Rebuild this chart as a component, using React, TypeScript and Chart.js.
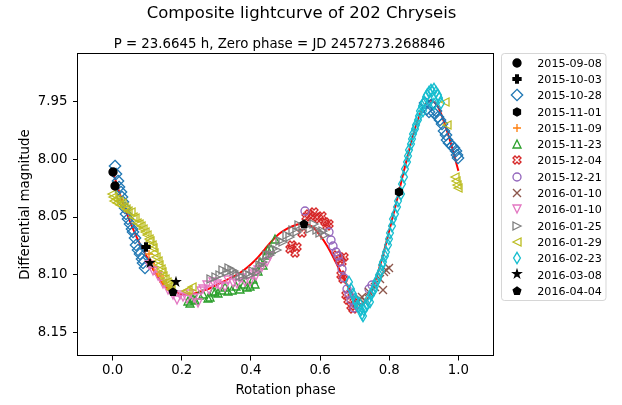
import { useEffect, useRef } from "react";
import { Chart, registerables } from "chart.js";

Chart.register(...registerables);

type Pt = [number, number];

// Folded photometry per night: [rotation phase, differential magnitude]
const n20150908: Pt[] = [[0.000, 8.011], [0.007, 8.023]];
const n20151003: Pt[] = [[0.098, 8.076]];
const n20151028: Pt[] = [
  [0.006, 8.006], [0.011, 8.013], [0.015, 8.019], [0.019, 8.024], [0.023, 8.028], [0.027, 8.033],
  [0.031, 8.037], [0.035, 8.042], [0.040, 8.047], [0.045, 8.052], [0.050, 8.056], [0.055, 8.060],
  [0.060, 8.063], [0.065, 8.068], [0.069, 8.074], [0.074, 8.079], [0.079, 8.082], [0.084, 8.086],
  [0.089, 8.090], [0.094, 8.094],
  [0.904, 7.951], [0.910, 7.956], [0.915, 7.959], [0.921, 7.953], [0.928, 7.960], [0.934, 7.958],
  [0.940, 7.963], [0.946, 7.966], [0.952, 7.969], [0.958, 7.975], [0.963, 7.979], [0.968, 7.983],
  [0.974, 7.986], [0.980, 7.988], [0.986, 7.990], [0.992, 7.993], [0.997, 7.996], [1.000, 7.999],
];
const n20151101: Pt[] = [[0.829, 8.028]];
const n20151109: Pt[] = [
  [0.104, 8.082], [0.112, 8.090], [0.120, 8.093], [0.128, 8.099], [0.136, 8.101], [0.146, 8.106],
  [0.156, 8.110], [0.166, 8.113],
];
const n20151123: Pt[] = [
  [0.218, 8.123], [0.224, 8.125], [0.232, 8.121], [0.238, 8.122], [0.250, 8.118], [0.262, 8.117],
  [0.275, 8.120], [0.282, 8.119], [0.290, 8.114], [0.296, 8.115], [0.305, 8.116], [0.315, 8.113],
  [0.325, 8.111], [0.335, 8.114], [0.344, 8.113], [0.356, 8.110], [0.368, 8.112], [0.380, 8.108],
  [0.390, 8.111], [0.397, 8.110], [0.405, 8.104], [0.412, 8.108], [0.420, 8.097], [0.426, 8.089],
  [0.436, 8.092], [0.443, 8.083], [0.450, 8.079], [0.458, 8.078], [0.470, 8.069],
];
const n20151204: Pt[] = [
  [0.512, 8.078], [0.520, 8.074], [0.527, 8.081], [0.532, 8.076], [0.547, 8.064], [0.560, 8.050],
  [0.567, 8.047], [0.574, 8.049], [0.582, 8.046], [0.590, 8.050], [0.598, 8.052], [0.606, 8.049],
  [0.614, 8.054], [0.620, 8.058], [0.626, 8.056], [0.650, 8.083], [0.657, 8.086], [0.664, 8.089],
  [0.670, 8.085], [0.660, 8.100], [0.665, 8.104], [0.676, 8.118], [0.682, 8.122], [0.688, 8.127],
  [0.694, 8.130],
];
const n20151221: Pt[] = [
  [0.557, 8.045], [0.626, 8.063], [0.633, 8.070], [0.638, 8.075], [0.645, 8.080], [0.652, 8.084],
  [0.658, 8.089], [0.664, 8.095], [0.670, 8.103], [0.677, 8.112], [0.683, 8.117], [0.690, 8.122],
  [0.697, 8.129], [0.705, 8.126], [0.742, 8.112], [0.749, 8.109],
];
const n20160110a: Pt[] = [
  [0.708, 8.125], [0.716, 8.121], [0.722, 8.119], [0.730, 8.123], [0.742, 8.115], [0.760, 8.111],
  [0.772, 8.104], [0.781, 8.113], [0.785, 8.098], [0.792, 8.096], [0.798, 8.094],
];
const n20160110b: Pt[] = [
  [0.105, 8.092], [0.118, 8.097], [0.130, 8.101], [0.145, 8.108], [0.160, 8.113], [0.175, 8.118],
  [0.185, 8.122], [0.195, 8.118], [0.204, 8.119], [0.214, 8.121], [0.225, 8.117], [0.236, 8.120],
  [0.248, 8.125], [0.256, 8.114], [0.262, 8.112], [0.272, 8.109], [0.280, 8.113], [0.290, 8.106],
  [0.301, 8.108], [0.312, 8.110], [0.325, 8.111], [0.335, 8.105], [0.347, 8.107], [0.359, 8.108],
  [0.370, 8.103], [0.384, 8.106], [0.397, 8.106], [0.407, 8.099], [0.414, 8.101], [0.421, 8.096],
  [0.433, 8.093], [0.446, 8.089], [0.455, 8.084],
];
const n20160125: Pt[] = [
  [0.285, 8.104], [0.298, 8.102], [0.311, 8.100], [0.320, 8.096], [0.330, 8.098], [0.338, 8.094],
  [0.344, 8.096], [0.352, 8.097], [0.359, 8.099], [0.368, 8.101], [0.378, 8.102], [0.388, 8.099],
  [0.397, 8.100], [0.407, 8.097], [0.417, 8.098], [0.425, 8.092], [0.436, 8.089], [0.446, 8.083],
  [0.455, 8.083], [0.465, 8.078], [0.475, 8.079], [0.484, 8.071], [0.494, 8.072], [0.503, 8.066],
  [0.512, 8.067], [0.523, 8.061], [0.532, 8.063], [0.540, 8.057], [0.550, 8.059], [0.560, 8.058],
  [0.571, 8.060], [0.581, 8.056], [0.590, 8.061], [0.600, 8.064], [0.608, 8.062], [0.614, 8.066],
];
const n20160129: Pt[] = [
  [-0.003, 8.030], [0.001, 8.033], [0.005, 8.036], [0.010, 8.034], [0.014, 8.038], [0.018, 8.036],
  [0.022, 8.040], [0.027, 8.038], [0.032, 8.041], [0.038, 8.043], [0.045, 8.045], [0.053, 8.046],
  [0.059, 8.050], [0.065, 8.051], [0.070, 8.055], [0.076, 8.056], [0.082, 8.058], [0.088, 8.060],
  [0.094, 8.063], [0.099, 8.066], [0.104, 8.069], [0.108, 8.071], [0.113, 8.074], [0.117, 8.077],
  [0.121, 8.081], [0.125, 8.085], [0.130, 8.088], [0.134, 8.092], [0.139, 8.095], [0.143, 8.098],
  [0.147, 8.101], [0.151, 8.104], [0.156, 8.106], [0.160, 8.108], [0.165, 8.110], [0.169, 8.112],
  [0.213, 8.114], [0.218, 8.113], [0.229, 8.111],
  [0.962, 7.950], [0.966, 7.970], [0.990, 8.015], [0.994, 8.019], [0.997, 8.022], [1.000, 8.025],
];
const n20160223: Pt[] = [
  [0.684, 8.106], [0.690, 8.112], [0.695, 8.117], [0.700, 8.121], [0.705, 8.124], [0.709, 8.128],
  [0.713, 8.125], [0.717, 8.131], [0.721, 8.134], [0.724, 8.136], [0.727, 8.131], [0.731, 8.128],
  [0.735, 8.126], [0.739, 8.122], [0.743, 8.124], [0.747, 8.118], [0.751, 8.115], [0.755, 8.113],
  [0.759, 8.110], [0.763, 8.106], [0.767, 8.104], [0.771, 8.100], [0.775, 8.097], [0.779, 8.092],
  [0.783, 8.089], [0.787, 8.084], [0.791, 8.080], [0.795, 8.074], [0.799, 8.069], [0.803, 8.064],
  [0.808, 8.058], [0.812, 8.052], [0.817, 8.047], [0.821, 8.041], [0.826, 8.036], [0.833, 8.030],
  [0.838, 8.021], [0.842, 8.015], [0.846, 8.008], [0.850, 8.002], [0.854, 7.997], [0.858, 7.992],
  [0.862, 7.987], [0.866, 7.982], [0.870, 7.978], [0.874, 7.974], [0.878, 7.970], [0.882, 7.966],
  [0.886, 7.962], [0.890, 7.958], [0.895, 7.954], [0.900, 7.950], [0.905, 7.946], [0.910, 7.944],
  [0.915, 7.942], [0.920, 7.940], [0.925, 7.941], [0.930, 7.939], [0.935, 7.942], [0.940, 7.944],
  [0.945, 7.947], [0.950, 7.951], [0.918, 7.949], [0.928, 7.952], [0.898, 7.958],
];
const n20160308: Pt[] = [[0.108, 8.090], [0.183, 8.106]];
const n20160404: Pt[] = [[0.174, 8.115], [0.554, 8.056]];

// Fourier fit of the composite lightcurve
const fitCurve: Pt[] = [
  [0.00, 8.010], [0.02, 8.029], [0.04, 8.046], [0.06, 8.061], [0.08, 8.074], [0.10, 8.085],
  [0.12, 8.097], [0.14, 8.106], [0.16, 8.112], [0.18, 8.115], [0.20, 8.117], [0.22, 8.117],
  [0.24, 8.116], [0.26, 8.114], [0.28, 8.112], [0.30, 8.109], [0.32, 8.106], [0.34, 8.103],
  [0.36, 8.100], [0.38, 8.096], [0.40, 8.091], [0.42, 8.085], [0.44, 8.078], [0.46, 8.071],
  [0.48, 8.065], [0.50, 8.061], [0.52, 8.058], [0.54, 8.056], [0.56, 8.056], [0.58, 8.059],
  [0.60, 8.066], [0.62, 8.075], [0.64, 8.086], [0.66, 8.098], [0.68, 8.110], [0.70, 8.120],
  [0.72, 8.126], [0.74, 8.120], [0.76, 8.105], [0.78, 8.085], [0.80, 8.062], [0.82, 8.038],
  [0.84, 8.013], [0.86, 7.989], [0.88, 7.968], [0.90, 7.954], [0.92, 7.949], [0.94, 7.954],
  [0.96, 7.969], [0.98, 7.988], [1.00, 8.010],
];

const nightLabels = [
  "2015-09-08", "2015-10-03", "2015-10-28", "2015-11-01", "2015-11-09", "2015-11-23",
  "2015-12-04", "2015-12-21", "2016-01-10", "2016-01-10", "2016-01-25", "2016-01-29",
  "2016-02-23", "2016-03-08", "2016-04-04",
];
const nightData = [
  n20150908, n20151003, n20151028, n20151101, n20151109, n20151123, n20151204, n20151221,
  n20160110a, n20160110b, n20160125, n20160129, n20160223, n20160308, n20160404,
];
const nightColors = [
  "#000000", "#000000", "#1f77b4", "#000000", "#ff7f0e", "#2ca02c", "#d62728", "#9467bd",
  "#8c564b", "#e377c2", "#7f7f7f", "#bcbd22", "#17becf", "#000000", "#000000",
];
const nightMarkers = ["o", "P", "D", "h", "+", "^", "X", "o", "x", "v", ">", "<", "d", "*", "p"];
const nightFilled = [
  true, true, false, true, false, false, false, false, false, false, false, false, false, true, true,
];

const xTicks = [0, 0.2, 0.4, 0.6, 0.8, 1.0];
const yTicks = [7.95, 8.0, 8.05, 8.1, 8.15];

const titleText = "Composite lightcurve of 202 Chryseis";
const subtitleText = "P = 23.6645 h, Zero phase = JD 2457273.268846";
const xTitle = "Rotation phase";
const yTitle = "Differential magnitude";

const FONT = "'DejaVu Sans', sans-serif";
const MARKER_SIZE = 8;
const EDGE_WIDTH = 1.33;
const SPRITE = 24;

function polygon(ctx: CanvasRenderingContext2D, pts: number[][]) {
  ctx.moveTo(pts[0][0], pts[0][1]);
  for (let i = 1; i < pts.length; i++) ctx.lineTo(pts[i][0], pts[i][1]);
  ctx.closePath();
}

function ring(n: number, rOuter: number, rInner: number) {
  const star = rInner !== rOuter;
  const count = star ? 2 * n : n;
  const pts: number[][] = [];
  for (let k = 0; k < count; k++) {
    const ang = -Math.PI / 2 + (2 * Math.PI * k) / count;
    const r = star && k % 2 === 1 ? rInner : rOuter;
    pts.push([r * Math.cos(ang), r * Math.sin(ang)]);
  }
  return pts;
}

function traceMarker(ctx: CanvasRenderingContext2D, kind: string, s: number) {
  const h = s / 2;
  ctx.beginPath();
  switch (kind) {
    case "o":
      ctx.arc(0, 0, h, 0, Math.PI * 2);
      break;
    case "P":
      polygon(ctx, [[-1, -3], [1, -3], [1, -1], [3, -1], [3, 1], [1, 1], [1, 3], [-1, 3], [-1, 1], [-3, 1], [-3, -1], [-1, -1]].map(([x, y]) => [(x * s) / 6, (y * s) / 6]));
      break;
    case "X":
      polygon(ctx, [[-1, -2], [0, -1], [1, -2], [2, -1], [1, 0], [2, 1], [1, 2], [0, 1], [-1, 2], [-2, 1], [-1, 0], [-2, -1]].map(([x, y]) => [(x * s) / 4, (y * s) / 4]));
      break;
    case "D": {
      const r = s * Math.SQRT1_2;
      polygon(ctx, [[0, -r], [r, 0], [0, r], [-r, 0]]);
      break;
    }
    case "d": {
      const r = s * Math.SQRT1_2;
      polygon(ctx, [[0, -r], [0.6 * r, 0], [0, r], [-0.6 * r, 0]]);
      break;
    }
    case "h":
      polygon(ctx, ring(6, h, h));
      break;
    case "p":
      polygon(ctx, ring(5, h, h));
      break;
    case "*":
      polygon(ctx, ring(5, h, h * 0.381966));
      break;
    case "^":
      polygon(ctx, [[0, -h], [-h, h], [h, h]]);
      break;
    case "v":
      polygon(ctx, [[0, h], [-h, -h], [h, -h]]);
      break;
    case "<":
      polygon(ctx, [[-h, 0], [h, -h], [h, h]]);
      break;
    case ">":
      polygon(ctx, [[h, 0], [-h, -h], [-h, h]]);
      break;
    case "+":
      ctx.moveTo(-h, 0);
      ctx.lineTo(h, 0);
      ctx.moveTo(0, -h);
      ctx.lineTo(0, h);
      break;
    case "x":
      ctx.moveTo(-h, -h);
      ctx.lineTo(h, h);
      ctx.moveTo(-h, h);
      ctx.lineTo(h, -h);
      break;
  }
}

function makeSprite(kind: string, color: string, filled: boolean) {
  const c = document.createElement("canvas");
  c.width = SPRITE;
  c.height = SPRITE;
  const ctx = c.getContext("2d")!;
  ctx.translate(SPRITE / 2, SPRITE / 2);
  traceMarker(ctx, kind, MARKER_SIZE);
  ctx.lineJoin = kind === "o" ? "round" : "miter";
  ctx.lineCap = "butt";
  if (filled) {
    ctx.fillStyle = color;
    ctx.fill();
  }
  ctx.strokeStyle = color;
  ctx.lineWidth = EDGE_WIDTH;
  ctx.stroke();
  return c;
}

function decorations(sprites: HTMLCanvasElement[]) {
  return {
    id: "decorations",
    beforeDatasetsDraw(chart: Chart) {
      chart.ctx.imageSmoothingEnabled = false;
    },
    afterDatasetsDraw(chart: Chart) {
      chart.ctx.imageSmoothingEnabled = true;
    },
    afterDraw(chart: Chart) {
      const { ctx, chartArea: a } = chart;
      ctx.save();

      // axes frame
      ctx.strokeStyle = "#000";
      ctx.lineWidth = 1;
      const x0 = Math.round(a.left) - 0.5;
      const x1 = Math.round(a.right) + 0.5;
      const y0 = Math.floor(a.top) + 0.5;
      const y1 = Math.floor(a.bottom) + 0.5;
      ctx.strokeRect(x0, y0, x1 - x0, y1 - y0);

      // titles
      ctx.fillStyle = "#000";
      ctx.textBaseline = "alphabetic";
      ctx.textAlign = "center";
      ctx.font = `16.5px ${FONT}`;
      ctx.fillText(titleText, 301.5, 18);
      ctx.font = `13.33px ${FONT}`;
      ctx.fillText(subtitleText, 279.5, 48);

      // axis titles
      ctx.fillText(xTitle, (a.left + a.right) / 2, 393.5);
      ctx.save();
      ctx.translate(29, (a.top + a.bottom) / 2);
      ctx.rotate(-Math.PI / 2);
      ctx.fillText(yTitle, 0, 0);
      ctx.restore();

      // legend
      const lx = 501.5, ly = 53.5, lw = 104.5, lh = 247, r = 3;
      ctx.beginPath();
      ctx.moveTo(lx + r, ly);
      ctx.arcTo(lx + lw, ly, lx + lw, ly + lh, r);
      ctx.arcTo(lx + lw, ly + lh, lx, ly + lh, r);
      ctx.arcTo(lx, ly + lh, lx, ly, r);
      ctx.arcTo(lx, ly, lx + lw, ly, r);
      ctx.closePath();
      ctx.fillStyle = "rgba(255,255,255,0.8)";
      ctx.fill();
      ctx.strokeStyle = "rgba(204,204,204,0.8)";
      ctx.stroke();

      ctx.font = `11.1px ${FONT}`;
      ctx.textAlign = "left";
      ctx.fillStyle = "#000";
      nightLabels.forEach((label, i) => {
        const cy = 62.7 + i * 16.29;
        ctx.drawImage(sprites[i], Math.round(517.3 - SPRITE / 2), Math.round(cy - SPRITE / 2));
        ctx.fillText(label, 537.3, cy + 4.05);
      });
      ctx.restore();
    },
  };
}

export default function App() {
  const ref = useRef<HTMLCanvasElement>(null);

  useEffect(() => {
    const canvas = ref.current;
    if (!canvas) return;
    const sprites = nightMarkers.map((m, i) => makeSprite(m, nightColors[i], nightFilled[i]));

    const datasets: any[] = [
      {
        label: "fit",
        data: fitCurve.map(([x, y]) => ({ x, y })),
        showLine: true,
        borderColor: "#ff0000",
        borderWidth: 2,
        pointRadius: 0,
        tension: 0.3,
        order: 100,
      },
      ...nightData.map((pts, i) => ({
        label: nightLabels[i],
        data: pts.map(([x, y]) => ({ x, y })),
        pointStyle: sprites[i],
        pointRadius: 4,
        showLine: false,
        order: nightFilled[i] ? 1 : 50 - i,
      })),
    ];

    const tickFont = { family: FONT, size: 13.33 };
    const chart = new Chart(canvas, {
      type: "scatter",
      data: { datasets },
      options: {
        responsive: false,
        animation: false,
        devicePixelRatio: 1,
        events: [],
        layout: { padding: { left: 0, top: 53.5, right: 129, bottom: 0 } },
        plugins: {
          legend: { display: false },
          title: { display: false },
          tooltip: { enabled: false },
        },
        scales: {
          x: {
            type: "linear",
            min: -0.1,
            max: 1.1,
            afterFit: (s: any) => {
              s.height = 49.5;
            },
            afterBuildTicks: (s: any) => {
              s.ticks = xTicks.map((v) => ({ value: v }));
            },
            grid: { display: true, drawOnChartArea: false, drawTicks: true, tickLength: 5, color: "#000", lineWidth: 1 },
            border: { display: false },
            ticks: {
              padding: 2,
              color: "#000",
              font: tickFont,
              maxRotation: 0,
              autoSkip: false,
              callback: (v: any) => Number(v).toFixed(1),
            },
          },
          y: {
            type: "linear",
            reverse: true,
            min: 7.9082,
            max: 8.1701,
            afterFit: (s: any) => {
              s.width = 78;
            },
            afterBuildTicks: (s: any) => {
              s.ticks = yTicks.map((v) => ({ value: v }));
            },
            grid: { display: true, drawOnChartArea: false, drawTicks: true, tickLength: 5, color: "#000", lineWidth: 1 },
            border: { display: false },
            ticks: {
              padding: 5.5,
              color: "#000",
              font: tickFont,
              autoSkip: false,
              callback: (v: any) => Number(v).toFixed(2),
            },
          },
        },
      },
      plugins: [decorations(sprites)],
    } as any);

    return () => chart.destroy();
  }, []);

  return (
    <div style={{ position: "absolute", left: 0, top: 0, width: 622, height: 405, background: "#fff" }}>
      <canvas ref={ref} width={622} height={405} style={{ display: "block", width: 622, height: 405 }} />
    </div>
  );
}
